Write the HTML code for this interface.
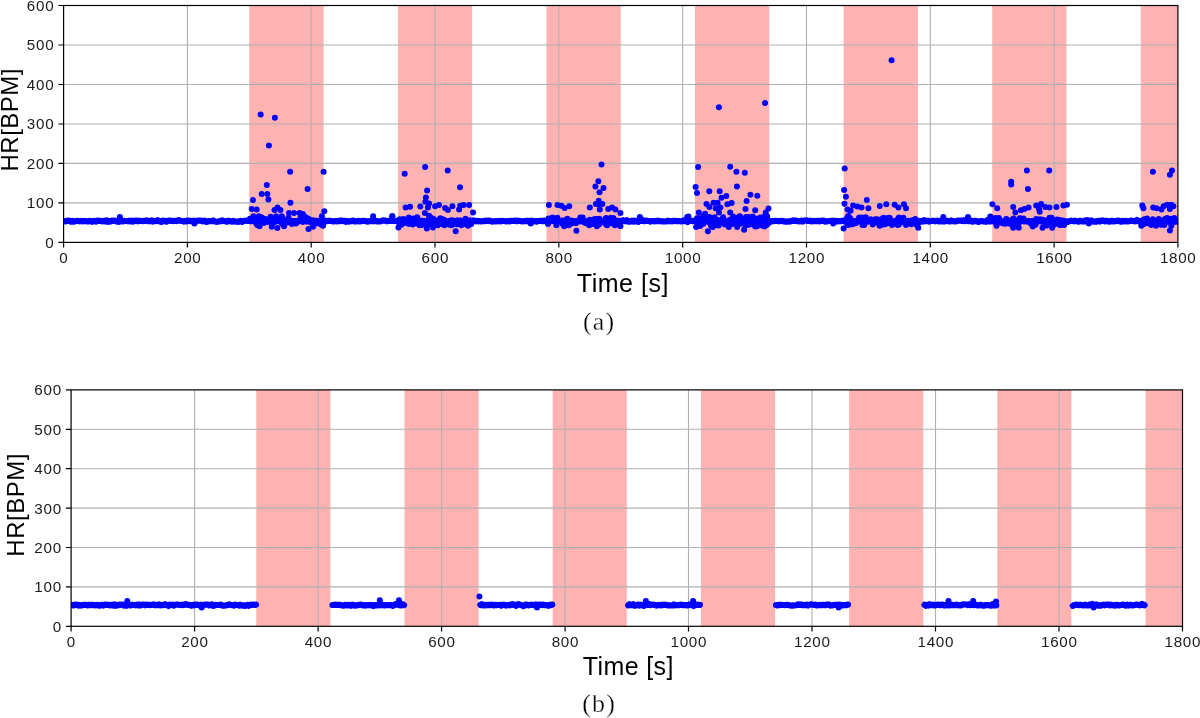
<!DOCTYPE html>
<html><head><meta charset="utf-8"><title>HR chart</title>
<style>
html,body{margin:0;padding:0;background:#fff;}
body{width:1200px;height:718px;overflow:hidden;font-family:"Liberation Sans",sans-serif;}
svg{display:block;}
text{filter:grayscale(1);}
</style></head><body>
<svg width="1200" height="718" viewBox="0 0 1200 718">
<rect width="1200" height="718" fill="#fff"/>
<clipPath id="clip1"><rect x="63.6" y="5.5" width="1114.3" height="236.9"/></clipPath>
<rect x="249.3" y="5.5" width="74.3" height="236.9" fill="#ffb2b2"/>
<rect x="397.9" y="5.5" width="74.3" height="236.9" fill="#ffb2b2"/>
<rect x="546.5" y="5.5" width="74.3" height="236.9" fill="#ffb2b2"/>
<rect x="695" y="5.5" width="74.3" height="236.9" fill="#ffb2b2"/>
<rect x="843.6" y="5.5" width="74.3" height="236.9" fill="#ffb2b2"/>
<rect x="992.2" y="5.5" width="74.3" height="236.9" fill="#ffb2b2"/>
<rect x="1140.8" y="5.5" width="37.1" height="236.9" fill="#ffb2b2"/>
<path d="M63.6 202.9H1177.9M63.6 163.4H1177.9M63.6 124H1177.9M63.6 84.5H1177.9M63.6 45H1177.9M187.4 5.5V242.4M311.2 5.5V242.4M435 5.5V242.4M558.8 5.5V242.4M682.7 5.5V242.4M806.5 5.5V242.4M930.3 5.5V242.4M1054.1 5.5V242.4" stroke="#b0b0b0" stroke-width="1.1" fill="none"/>
<g clip-path="url(#clip1)" fill="#0000ff">
<path d="M63.6 221.2 L64.8 221.2 L66.1 221.4 L67.3 220.7 L68.6 220.7 L69.8 220.9 L71 221.7 L72.3 220.9 L73.5 221.7 L74.7 221.4 L76 221 L77.2 220.9 L78.5 221 L79.7 221.3 L80.9 220.9 L82.2 221.3 L83.4 221.2 L84.6 220.9 L85.9 221.2 L87.1 221.3 L88.4 221.4 L89.6 220.9 L90.8 221.1 L92.1 221.8 L93.3 221.1 L94.6 220.9 L95.8 221.6 L97 220.8 L98.3 220.6 L99.5 221 L100.7 220.9 L102 221.2 L103.2 221.4 L104.5 220.6 L105.7 221.6 L106.9 220.6 L108.2 221.8 L109.4 221 L110.6 221.5 L111.9 220.7 L113.1 221 L114.4 220.5 L115.6 220.9 L116.8 221.6 L118.1 220.7 L119.3 221.8 L120.6 220.8 L121.8 221.1 L123 221.5 L124.3 220.9 L125.5 221 L126.7 221 L128 221.3 L129.2 220.7 L130.5 221.4 L131.7 220.6 L132.9 221.6 L134.2 221.1 L135.4 220.6 L136.6 220.6 L137.9 221.4 L139.1 220.7 L140.4 221 L141.6 221 L142.8 221.1 L144.1 220.9 L145.3 220.8 L146.6 220.4 L147.8 221.2 L149 221.1 L150.3 221.2 L151.5 220.4 L152.7 221.5 L154 220.9 L155.2 221.2 L156.5 221 L157.7 220.2 L158.9 221.3 L160.2 221.2 L161.4 222 L162.6 220.7 L163.9 221.1 L165.1 220.8 L166.4 221.7 L167.6 221.2 L168.8 220.7 L170.1 220.7 L171.3 220.8 L172.6 221 L173.8 221.1 L175 220.8 L176.3 221.1 L177.5 220.7 L178.7 220.1 L180 220.8 L181.2 221 L182.5 221 L183.7 221.6 L184.9 220.9 L186.2 221.4 L187.4 220.6 L188.6 220.6 L189.9 221.1 L191.1 220.8 L192.4 221.4 L193.6 220.7 L194.8 221.8 L196.1 221.1 L197.3 220.9 L198.6 220.5 L199.8 220.7 L201 220.6 L202.3 221.3 L203.5 221 L204.7 220.6 L206 221.9 L207.2 221.7 L208.5 221 L209.7 221.1 L210.9 221.1 L212.2 221.1 L213.4 220.5 L214.6 221.3 L215.9 221.7 L217.1 221.8 L218.4 221.5 L219.6 221.1 L220.8 221.3 L222.1 220.4 L223.3 220.9 L224.6 221.1 L225.8 221.3 L227 221.7 L228.3 220.7 L229.5 221.1 L230.7 221 L232 221.6 L233.2 220.8 L234.5 221.4 L235.7 221.6 L236.9 221.5 L238.2 221.9 L239.4 221.3 L240.6 220.8 L241.9 221.9 L243.1 221 L244.4 220.8 L245.6 220.8 L246.8 220.6 L248.1 220.9 L249.3 220.8 L250.6 221.2 L251.8 220.4 L253 220.9 L254.3 221.4 L255.5 220.4 L256.7 220.9 L258 221.4 L259.2 221 L260.5 221.1 L261.7 221.4 L262.9 220.8 L264.2 221.4 L265.4 220.1 L266.7 220.9 L267.9 220.9 L269.1 220.5 L270.4 221.1 L271.6 221.8 L272.8 221 L274.1 220.6 L275.3 221.6 L276.6 221 L277.8 221.2 L279 220.3 L280.3 221.5 L281.5 220.5 L282.7 220.4 L284 221.4 L285.2 221.8 L286.5 221.1 L287.7 221.3 L288.9 220.9 L290.2 220.9 L291.4 221.2 L292.7 221.1 L293.9 221.3 L295.1 221.1 L296.4 221.1 L297.6 221.1 L298.8 220.9 L300.1 220.9 L301.3 220.9 L302.6 221.8 L303.8 221.4 L305 221.5 L306.3 221.4 L307.5 221.2 L308.7 221.4 L310 220.9 L311.2 220.6 L312.5 221.1 L313.7 220.5 L314.9 220.7 L316.2 221.1 L317.4 221.2 L318.7 220.9 L319.9 221.2 L321.1 220.6 L322.4 221 L323.6 221.2 L324.8 220.7 L326.1 221.5 L327.3 221 L328.6 220.8 L329.8 220.8 L331 221 L332.3 221.2 L333.5 221.5 L334.7 221.1 L336 221.2 L337.2 221.3 L338.5 220.9 L339.7 221.2 L340.9 220.4 L342.2 220.7 L343.4 221.1 L344.7 220.8 L345.9 221.8 L347.1 220.9 L348.4 221.7 L349.6 221.3 L350.8 221.1 L352.1 220.9 L353.3 220.5 L354.6 221.5 L355.8 221.5 L357 221.1 L358.3 220.9 L359.5 221.5 L360.7 221.1 L362 221.1 L363.2 220.8 L364.5 221.1 L365.7 221.1 L366.9 221.4 L368.2 221.6 L369.4 221 L370.7 221.2 L371.9 220.9 L373.1 221.1 L374.4 221.1 L375.6 220.8 L376.8 221.3 L378.1 221.2 L379.3 221.5 L380.6 221.3 L381.8 220.9 L383 220.3 L384.3 220.7 L385.5 220.7 L386.7 221.3 L388 220.9 L389.2 221 L390.5 220.8 L391.7 220.9 L392.9 220.9 L394.2 220.7 L395.4 221 L396.7 221.2 L397.9 220.7 L399.1 221.4 L400.4 220.9 L401.6 221.4 L402.8 220.5 L404.1 221 L405.3 220.6 L406.6 220.8 L407.8 221.3 L409 220.6 L410.3 221.3 L411.5 221.1 L412.7 220.5 L414 221.3 L415.2 221.1 L416.5 221.3 L417.7 221.7 L418.9 220.6 L420.2 221.6 L421.4 220.7 L422.7 221.1 L423.9 221.1 L425.1 221.1 L426.4 221.1 L427.6 220.9 L428.8 221.4 L430.1 221.3 L431.3 220.8 L432.6 221.2 L433.8 221.4 L435 221 L436.3 220.9 L437.5 221.3 L438.7 220.1 L440 221.3 L441.2 221 L442.5 221.2 L443.7 221.1 L444.9 221.8 L446.2 221.1 L447.4 221.5 L448.7 221.3 L449.9 220.8 L451.1 220.9 L452.4 221.6 L453.6 220.9 L454.8 221.1 L456.1 221.4 L457.3 220.4 L458.6 221 L459.8 220.5 L461 220.8 L462.3 221.1 L463.5 221.7 L464.7 220.8 L466 220.8 L467.2 220.9 L468.5 221.6 L469.7 220.5 L470.9 221.4 L472.2 221.5 L473.4 220.5 L474.7 221 L475.9 221.3 L477.1 220.9 L478.4 221.4 L479.6 221 L480.8 221.5 L482.1 221.3 L483.3 221.1 L484.6 221.2 L485.8 220.6 L487 220.8 L488.3 221.1 L489.5 220.5 L490.7 221.1 L492 221.6 L493.2 221.3 L494.5 221.5 L495.7 221.1 L496.9 221.3 L498.2 221.2 L499.4 220.9 L500.7 221.3 L501.9 220.8 L503.1 221 L504.4 221 L505.6 221.3 L506.8 221.3 L508.1 221 L509.3 221.5 L510.6 220.9 L511.8 220.9 L513 221 L514.3 220.7 L515.5 220.5 L516.7 221.2 L518 220.8 L519.2 220.8 L520.5 221.1 L521.7 221.3 L522.9 221.3 L524.2 221.1 L525.4 221.1 L526.7 220.9 L527.9 220.8 L529.1 221.5 L530.4 220.9 L531.6 220.7 L532.8 221.6 L534.1 221 L535.3 221 L536.6 221.6 L537.8 221.1 L539 221 L540.3 220.8 L541.5 221.1 L542.7 221.2 L544 220.6 L545.2 221.1 L546.5 221.2 L547.7 220.5 L548.9 220.6 L550.2 221 L551.4 221 L552.7 220.2 L553.9 221.3 L555.1 221.5 L556.4 220.9 L557.6 220.9 L558.8 220.8 L560.1 221.3 L561.3 221.2 L562.6 221 L563.8 220.9 L565 221.1 L566.3 220.6 L567.5 221.5 L568.7 220.3 L570 221.1 L571.2 220.7 L572.5 221.2 L573.7 221 L574.9 221.5 L576.2 221.1 L577.4 221.2 L578.7 220.9 L579.9 221.4 L581.1 221.1 L582.4 221.1 L583.6 220.7 L584.8 221.4 L586.1 222 L587.3 221.3 L588.6 220.9 L589.8 220.9 L591 221.7 L592.3 220.7 L593.5 220.8 L594.7 220.9 L596 220.6 L597.2 220.8 L598.5 220.8 L599.7 221.1 L600.9 220.9 L602.2 221.5 L603.4 221 L604.7 220.9 L605.9 221.1 L607.1 221.2 L608.4 220.8 L609.6 221.2 L610.8 221.2 L612.1 221 L613.3 220.9 L614.6 221.4 L615.8 221.2 L617 220.8 L618.3 221.3 L619.5 221.4 L620.8 221.3 L622 221.3 L623.2 220.3 L624.5 221.2 L625.7 221.1 L626.9 220.3 L628.2 221.7 L629.4 221.7 L630.7 221.3 L631.9 220.6 L633.1 221.6 L634.4 220.7 L635.6 221.4 L636.8 220.9 L638.1 221.9 L639.3 220.8 L640.6 220.8 L641.8 221 L643 220.2 L644.3 221.2 L645.5 220.8 L646.8 220.7 L648 221 L649.2 221 L650.5 221.6 L651.7 221 L652.9 221 L654.2 221.4 L655.4 220.9 L656.7 221.2 L657.9 220.6 L659.1 221.1 L660.4 221 L661.6 221.4 L662.8 221.3 L664.1 221.5 L665.3 221.5 L666.6 221.4 L667.8 220.6 L669 221.3 L670.3 221 L671.5 221.3 L672.8 221.2 L674 220.8 L675.2 220.8 L676.5 221.2 L677.7 221.2 L678.9 221.1 L680.2 221.2 L681.4 221.4 L682.7 220.9 L683.9 220.3 L685.1 221.2 L686.4 220.7 L687.6 222 L688.8 220.9 L690.1 220.9 L691.3 220.8 L692.6 221.1 L693.8 220.9 L695 221 L696.3 221.9 L697.5 221 L698.8 221.4 L700 220.9 L701.2 220.6 L702.5 221.4 L703.7 220.8 L704.9 220.8 L706.2 221.3 L707.4 220.8 L708.7 221.7 L709.9 220.2 L711.1 221.3 L712.4 221 L713.6 220.6 L714.8 221.5 L716.1 221.3 L717.3 221.1 L718.6 221 L719.8 221.7 L721 221.5 L722.3 221.1 L723.5 220.9 L724.8 221.4 L726 221.8 L727.2 220.9 L728.5 221.1 L729.7 220.7 L730.9 220.8 L732.2 221 L733.4 221.3 L734.7 221.4 L735.9 220.5 L737.1 221.1 L738.4 220.7 L739.6 220.7 L740.8 221.3 L742.1 220.6 L743.3 221.4 L744.6 221.3 L745.8 220.5 L747 221.1 L748.3 220.7 L749.5 221.3 L750.8 220.5 L752 220.6 L753.2 220.9 L754.5 220.9 L755.7 221.6 L756.9 221 L758.2 221.2 L759.4 220.4 L760.7 221 L761.9 220.4 L763.1 221.1 L764.4 221.1 L765.6 221.1 L766.8 221.1 L768.1 221.4 L769.3 221.3 L770.6 221.1 L771.8 221.4 L773 221 L774.3 221.1 L775.5 220.8 L776.8 221 L778 221.1 L779.2 221.1 L780.5 221.1 L781.7 220.8 L782.9 221 L784.2 221.5 L785.4 221.6 L786.7 221.7 L787.9 221.3 L789.1 221.6 L790.4 221.4 L791.6 221 L792.8 220.4 L794.1 221 L795.3 220.4 L796.6 221.2 L797.8 221 L799 221.3 L800.3 221.3 L801.5 220.6 L802.8 221.5 L804 220.8 L805.2 220.4 L806.5 220.3 L807.7 220.9 L808.9 221 L810.2 220.7 L811.4 221.5 L812.7 221.3 L813.9 220.9 L815.1 221.1 L816.4 221.2 L817.6 220.8 L818.8 221.2 L820.1 221.3 L821.3 220.7 L822.6 220.8 L823.8 220.7 L825 221.6 L826.3 221.4 L827.5 221.3 L828.8 221 L830 221 L831.2 220.8 L832.5 221 L833.7 220.7 L834.9 221.7 L836.2 220.9 L837.4 221.5 L838.7 221.1 L839.9 221.1 L841.1 221.2 L842.4 220.7 L843.6 220.5 L844.8 221.3 L846.1 221.3 L847.3 221.4 L848.6 221 L849.8 221 L851 221 L852.3 220.7 L853.5 221.6 L854.8 221 L856 221.7 L857.2 221.1 L858.5 221.3 L859.7 220.7 L860.9 221.4 L862.2 220.9 L863.4 221 L864.7 220.8 L865.9 220.9 L867.1 221 L868.4 221.3 L869.6 221 L870.8 221.1 L872.1 221.3 L873.3 221.2 L874.6 220.5 L875.8 220.3 L877 220.8 L878.3 220.4 L879.5 221.1 L880.8 220.9 L882 220.9 L883.2 221.2 L884.5 221.6 L885.7 221.2 L886.9 221.3 L888.2 220.8 L889.4 221.6 L890.7 220.8 L891.9 221.6 L893.1 221.3 L894.4 221.2 L895.6 221 L896.8 220.8 L898.1 221.3 L899.3 221.3 L900.6 220.8 L901.8 221 L903 221.3 L904.3 221.4 L905.5 221.3 L906.8 221.5 L908 220.9 L909.2 221 L910.5 222 L911.7 220.6 L912.9 220.7 L914.2 220.7 L915.4 220.7 L916.7 221.6 L917.9 221.6 L919.1 220.9 L920.4 221.8 L921.6 220.9 L922.8 221.5 L924.1 220.3 L925.3 221.2 L926.6 221.1 L927.8 220.7 L929 221.6 L930.3 221.2 L931.5 221 L932.8 220.7 L934 221 L935.2 221.3 L936.5 220.7 L937.7 220.9 L938.9 221.5 L940.2 220.9 L941.4 221.4 L942.7 220.8 L943.9 221.4 L945.1 221.3 L946.4 220.9 L947.6 220.9 L948.8 221.3 L950.1 221.3 L951.3 220.5 L952.6 221.1 L953.8 221.2 L955 221.5 L956.3 221.3 L957.5 220.5 L958.8 220.5 L960 220.6 L961.2 220.7 L962.5 221.1 L963.7 220.2 L964.9 221.2 L966.2 220.9 L967.4 221 L968.7 221.2 L969.9 220.6 L971.1 220.7 L972.4 221.6 L973.6 221.4 L974.8 220.9 L976.1 220.9 L977.3 221.7 L978.6 221.8 L979.8 221.3 L981 221.1 L982.3 221.2 L983.5 221.3 L984.8 221.5 L986 221.8 L987.2 220.4 L988.5 221.5 L989.7 221.4 L990.9 221.3 L992.2 220.9 L993.4 221.4 L994.7 220.6 L995.9 221.4 L997.1 221.6 L998.4 221.5 L999.6 221 L1000.9 221.2 L1002.1 221.5 L1003.3 221.3 L1004.6 221.7 L1005.8 221 L1007 221.5 L1008.3 220.9 L1009.5 220.9 L1010.8 221.4 L1012 222 L1013.2 221.4 L1014.5 221.2 L1015.7 221.2 L1016.9 221.5 L1018.2 220.5 L1019.4 220.7 L1020.7 220.8 L1021.9 220.8 L1023.1 220.7 L1024.4 221.4 L1025.6 220.7 L1026.9 221.4 L1028.1 221.2 L1029.3 221.2 L1030.6 221.3 L1031.8 221.1 L1033 221 L1034.3 221 L1035.5 221.3 L1036.8 220.8 L1038 221.3 L1039.2 221.2 L1040.5 221.2 L1041.7 221.6 L1042.9 220.6 L1044.2 220.9 L1045.4 220.9 L1046.7 220.7 L1047.9 220.7 L1049.1 221.8 L1050.4 220.7 L1051.6 221.2 L1052.9 221.2 L1054.1 221 L1055.3 220.5 L1056.6 220.4 L1057.8 220.5 L1059 221 L1060.3 221.1 L1061.5 221.1 L1062.8 220.5 L1064 221.2 L1065.2 221.1 L1066.5 221.5 L1067.7 221.9 L1068.9 221.1 L1070.2 221.1 L1071.4 220.6 L1072.7 221 L1073.9 221.3 L1075.1 220.7 L1076.4 221.2 L1077.6 221.4 L1078.9 221.6 L1080.1 220.7 L1081.3 221.4 L1082.6 221.3 L1083.8 221.5 L1085 220.5 L1086.3 221.3 L1087.5 220.2 L1088.8 221.3 L1090 221.3 L1091.2 220.4 L1092.5 221.3 L1093.7 221.7 L1094.9 221.5 L1096.2 221.7 L1097.4 221 L1098.7 220.8 L1099.9 221.5 L1101.1 220.8 L1102.4 220.4 L1103.6 220.8 L1104.9 221.3 L1106.1 220.7 L1107.3 221.4 L1108.6 221.2 L1109.8 221.7 L1111 220.9 L1112.3 220.8 L1113.5 221.5 L1114.8 221.3 L1116 221.1 L1117.2 221 L1118.5 220.5 L1119.7 221 L1120.9 221.7 L1122.2 220.8 L1123.4 221.5 L1124.7 221 L1125.9 220.8 L1127.1 221.4 L1128.4 221.4 L1129.6 221 L1130.9 220.7 L1132.1 220.7 L1133.3 221 L1134.6 221.3 L1135.8 221.2 L1137 220 L1138.3 220.8 L1139.5 221.3 L1140.8 221 L1142 220.5 L1143.2 220.7 L1144.5 221.1 L1145.7 221 L1146.9 221 L1148.2 221.8 L1149.4 221.9 L1150.7 221 L1151.9 221.4 L1153.1 220.4 L1154.4 221.1 L1155.6 221.6 L1156.9 221.3 L1158.1 221.3 L1159.3 220 L1160.6 221.1 L1161.8 221.1 L1163 220.4 L1164.3 221 L1165.5 221 L1166.8 221.7 L1168 220.9 L1169.2 221.1 L1170.5 221.2 L1171.7 221.6 L1172.9 220.8 L1174.2 221.1 L1175.4 221.3 L1176.7 221.1 L1177.9 221.1" fill="none" stroke="#0000ff" stroke-width="6.2" stroke-linecap="round" stroke-linejoin="round"/>
<circle cx="119.9" cy="216.9" r="3"/><circle cx="194.5" cy="223.4" r="3"/><circle cx="373.1" cy="216.3" r="3"/><circle cx="392.3" cy="216.3" r="3"/><circle cx="530.7" cy="223.4" r="3"/><circle cx="639.9" cy="217.1" r="3"/><circle cx="687.2" cy="217.1" r="3"/><circle cx="833.1" cy="223.4" r="3"/><circle cx="943.3" cy="217.1" r="3"/><circle cx="968" cy="217.1" r="3"/><circle cx="990.9" cy="217.5" r="3"/><circle cx="1088.8" cy="223.4" r="3"/>
<circle cx="260.7" cy="114.5" r="3"/><circle cx="274.9" cy="117.7" r="3"/><circle cx="268.9" cy="145.6" r="3"/><circle cx="290.1" cy="171.7" r="3"/><circle cx="323.6" cy="171.7" r="3"/><circle cx="266.8" cy="185.1" r="3"/><circle cx="307.6" cy="189" r="3"/><circle cx="261.7" cy="194" r="3"/><circle cx="267.3" cy="194" r="3"/><circle cx="268.4" cy="199.6" r="3"/><circle cx="253" cy="200.1" r="3"/><circle cx="290.4" cy="202.7" r="3"/><circle cx="251.7" cy="209" r="3"/><circle cx="256.7" cy="209.6" r="3"/><circle cx="274.5" cy="210.1" r="3"/><circle cx="277.5" cy="207.4" r="3"/><circle cx="280.4" cy="210.1" r="3"/><circle cx="324.3" cy="211.3" r="3"/><circle cx="289" cy="212.9" r="3"/><circle cx="294" cy="212.9" r="3"/><circle cx="299.6" cy="212.9" r="3"/><circle cx="302.9" cy="214" r="3"/><circle cx="253.4" cy="216.3" r="3"/><circle cx="258.9" cy="216.3" r="3"/><circle cx="270.6" cy="216.8" r="3"/><circle cx="276.2" cy="216.3" r="3"/><circle cx="281.8" cy="216.3" r="3"/><circle cx="305.2" cy="216.8" r="3"/><circle cx="321.9" cy="216.3" r="3"/><circle cx="259.5" cy="226.3" r="3"/><circle cx="271.7" cy="226.8" r="3"/><circle cx="277.3" cy="228" r="3"/><circle cx="308.5" cy="229.1" r="3"/><circle cx="313" cy="226.8" r="3"/><circle cx="323" cy="225.7" r="3"/><circle cx="284" cy="226.3" r="3"/><circle cx="425.1" cy="167" r="3"/><circle cx="404.7" cy="173.7" r="3"/><circle cx="447.7" cy="170.6" r="3"/><circle cx="460" cy="187.3" r="3"/><circle cx="427.1" cy="190.4" r="3"/><circle cx="425.9" cy="197.6" r="3"/><circle cx="425.4" cy="201.8" r="3"/><circle cx="429" cy="203.5" r="3"/><circle cx="405.6" cy="207.4" r="3"/><circle cx="410.1" cy="206.8" r="3"/><circle cx="420.3" cy="206.5" r="3"/><circle cx="427.9" cy="207.4" r="3"/><circle cx="435.1" cy="206.2" r="3"/><circle cx="439" cy="205.1" r="3"/><circle cx="445.1" cy="207.9" r="3"/><circle cx="447.9" cy="210.1" r="3"/><circle cx="452.4" cy="206.2" r="3"/><circle cx="459.1" cy="209.6" r="3"/><circle cx="460.2" cy="205.7" r="3"/><circle cx="463.5" cy="205.1" r="3"/><circle cx="469.1" cy="205.1" r="3"/><circle cx="473" cy="212.4" r="3"/><circle cx="424.8" cy="212.9" r="3"/><circle cx="392.2" cy="216.3" r="3"/><circle cx="429" cy="215.7" r="3"/><circle cx="398.4" cy="227.4" r="3"/><circle cx="408.9" cy="224.1" r="3"/><circle cx="419.5" cy="225.2" r="3"/><circle cx="426.8" cy="228.5" r="3"/><circle cx="432.9" cy="227.4" r="3"/><circle cx="437.9" cy="225.2" r="3"/><circle cx="444.6" cy="225.2" r="3"/><circle cx="451.3" cy="225.2" r="3"/><circle cx="455.7" cy="231.3" r="3"/><circle cx="461.3" cy="225.2" r="3"/><circle cx="468" cy="225.7" r="3"/><circle cx="601.5" cy="164.5" r="3"/><circle cx="598.4" cy="181.2" r="3"/><circle cx="595.4" cy="186.5" r="3"/><circle cx="603.5" cy="187.9" r="3"/><circle cx="599.5" cy="192.3" r="3"/><circle cx="598.7" cy="200.7" r="3"/><circle cx="595.9" cy="204" r="3"/><circle cx="598.7" cy="204.6" r="3"/><circle cx="602.4" cy="204" r="3"/><circle cx="599.8" cy="209.6" r="3"/><circle cx="589.8" cy="207.4" r="3"/><circle cx="548.9" cy="204.9" r="3"/><circle cx="557.5" cy="205.1" r="3"/><circle cx="561.4" cy="205.7" r="3"/><circle cx="564.7" cy="207.9" r="3"/><circle cx="569.2" cy="206.2" r="3"/><circle cx="608.2" cy="209" r="3"/><circle cx="612.1" cy="207.4" r="3"/><circle cx="615.4" cy="209.6" r="3"/><circle cx="620.4" cy="212.9" r="3"/><circle cx="548" cy="224.1" r="3"/><circle cx="556.4" cy="225.2" r="3"/><circle cx="564.2" cy="226.3" r="3"/><circle cx="568.6" cy="225.2" r="3"/><circle cx="576.4" cy="230.7" r="3"/><circle cx="589.2" cy="225.2" r="3"/><circle cx="596.8" cy="226.3" r="3"/><circle cx="607.1" cy="225.2" r="3"/><circle cx="614.9" cy="225.2" r="3"/><circle cx="620.4" cy="226.3" r="3"/><circle cx="718.9" cy="107.2" r="3"/><circle cx="765" cy="103.1" r="3"/><circle cx="698.1" cy="166.9" r="3"/><circle cx="730.2" cy="166.7" r="3"/><circle cx="736.4" cy="171.8" r="3"/><circle cx="744.8" cy="172.7" r="3"/><circle cx="695.6" cy="187.1" r="3"/><circle cx="697" cy="192.9" r="3"/><circle cx="709.3" cy="191.3" r="3"/><circle cx="719.7" cy="191.3" r="3"/><circle cx="736.9" cy="186.4" r="3"/><circle cx="726.3" cy="196.1" r="3"/><circle cx="721.5" cy="197.8" r="3"/><circle cx="750.4" cy="194.7" r="3"/><circle cx="757.3" cy="195.7" r="3"/><circle cx="746.6" cy="200.9" r="3"/><circle cx="706.5" cy="204.1" r="3"/><circle cx="713.5" cy="202.7" r="3"/><circle cx="717.6" cy="202.7" r="3"/><circle cx="709.3" cy="206.9" r="3"/><circle cx="715.6" cy="208.2" r="3"/><circle cx="720.4" cy="207.5" r="3"/><circle cx="727.4" cy="204.3" r="3"/><circle cx="731.6" cy="203" r="3"/><circle cx="719" cy="212.4" r="3"/><circle cx="745.5" cy="208.9" r="3"/><circle cx="768.5" cy="208.5" r="3"/><circle cx="755.2" cy="210.3" r="3"/><circle cx="730.2" cy="212.4" r="3"/><circle cx="698.8" cy="212.4" r="3"/><circle cx="705.1" cy="213.8" r="3"/><circle cx="765.7" cy="212.4" r="3"/><circle cx="688.4" cy="216.6" r="3"/><circle cx="696.1" cy="227" r="3"/><circle cx="707.9" cy="231.2" r="3"/><circle cx="712.8" cy="227" r="3"/><circle cx="728.8" cy="227" r="3"/><circle cx="737.1" cy="227" r="3"/><circle cx="744.1" cy="229.8" r="3"/><circle cx="755.2" cy="226.4" r="3"/><circle cx="764.3" cy="226.4" r="3"/><circle cx="891.6" cy="60.2" r="3"/><circle cx="844.7" cy="168.6" r="3"/><circle cx="844.1" cy="190.1" r="3"/><circle cx="845.9" cy="196.8" r="3"/><circle cx="866.8" cy="199.9" r="3"/><circle cx="844.5" cy="203.8" r="3"/><circle cx="847.5" cy="209.6" r="3"/><circle cx="850.6" cy="210.8" r="3"/><circle cx="853.1" cy="205.5" r="3"/><circle cx="857.3" cy="206.6" r="3"/><circle cx="861.5" cy="207.5" r="3"/><circle cx="868.4" cy="208.2" r="3"/><circle cx="879.8" cy="205.9" r="3"/><circle cx="886.3" cy="204.3" r="3"/><circle cx="894.6" cy="204.8" r="3"/><circle cx="898.4" cy="207.5" r="3"/><circle cx="903.9" cy="204.3" r="3"/><circle cx="906" cy="208.2" r="3"/><circle cx="848.2" cy="215.9" r="3"/><circle cx="843.6" cy="228.4" r="3"/><circle cx="879.6" cy="225.7" r="3"/><circle cx="885.1" cy="224.3" r="3"/><circle cx="918.3" cy="227.7" r="3"/><circle cx="847.5" cy="225" r="3"/><circle cx="864.2" cy="225" r="3"/><circle cx="897.7" cy="225" r="3"/><circle cx="906" cy="225" r="3"/><circle cx="1026.9" cy="170.4" r="3"/><circle cx="1049.2" cy="170.4" r="3"/><circle cx="1011.2" cy="181.8" r="3"/><circle cx="1011.2" cy="184.6" r="3"/><circle cx="1027.9" cy="189" r="3"/><circle cx="992.4" cy="204.3" r="3"/><circle cx="997.2" cy="208.2" r="3"/><circle cx="1013.2" cy="206.9" r="3"/><circle cx="1015.3" cy="212.4" r="3"/><circle cx="1020.9" cy="210.3" r="3"/><circle cx="1024.4" cy="208.9" r="3"/><circle cx="1028.6" cy="207.5" r="3"/><circle cx="1036.2" cy="205.5" r="3"/><circle cx="1039" cy="208.9" r="3"/><circle cx="1041.1" cy="204.1" r="3"/><circle cx="1045.3" cy="206.9" r="3"/><circle cx="1049.5" cy="207.5" r="3"/><circle cx="1039.7" cy="211.7" r="3"/><circle cx="1056.4" cy="206.9" r="3"/><circle cx="1063.4" cy="205.5" r="3"/><circle cx="1066.9" cy="204.8" r="3"/><circle cx="990.3" cy="216.6" r="3"/><circle cx="996.5" cy="225.7" r="3"/><circle cx="1013.2" cy="227.7" r="3"/><circle cx="1018.8" cy="227.7" r="3"/><circle cx="1032.7" cy="226.4" r="3"/><circle cx="1042.5" cy="227.7" r="3"/><circle cx="1052.2" cy="227.7" r="3"/><circle cx="1064.1" cy="225" r="3"/><circle cx="1152.9" cy="171.8" r="3"/><circle cx="1172" cy="170.4" r="3"/><circle cx="1169.9" cy="174.8" r="3"/><circle cx="1142.3" cy="205.5" r="3"/><circle cx="1143.4" cy="208.2" r="3"/><circle cx="1153.2" cy="207.5" r="3"/><circle cx="1156.7" cy="208.2" r="3"/><circle cx="1161.5" cy="209.6" r="3"/><circle cx="1163.6" cy="206.2" r="3"/><circle cx="1167.1" cy="204.8" r="3"/><circle cx="1171.3" cy="204.8" r="3"/><circle cx="1173.4" cy="206.2" r="3"/><circle cx="1169.9" cy="208.9" r="3"/><circle cx="1141.3" cy="225.7" r="3"/><circle cx="1156" cy="225.7" r="3"/><circle cx="1169.9" cy="230.5" r="3"/><circle cx="1171.3" cy="225.7" r="3"/><circle cx="283" cy="221.6" r="3"/><circle cx="317.4" cy="220.8" r="3"/><circle cx="287" cy="221.8" r="3"/><circle cx="263.4" cy="221.2" r="3"/><circle cx="295.9" cy="223.4" r="3"/><circle cx="256.8" cy="219.6" r="3"/><circle cx="256.6" cy="223.5" r="3"/><circle cx="300.6" cy="217.5" r="3"/><circle cx="321.7" cy="224.7" r="3"/><circle cx="297.7" cy="222" r="3"/><circle cx="261.4" cy="217.3" r="3"/><circle cx="288.5" cy="217.7" r="3"/><circle cx="263.8" cy="219.1" r="3"/><circle cx="252.1" cy="220.8" r="3"/><circle cx="282.1" cy="223.8" r="3"/><circle cx="287.9" cy="222.2" r="3"/><circle cx="286.4" cy="222.4" r="3"/><circle cx="283.3" cy="219.4" r="3"/><circle cx="322.8" cy="225" r="3"/><circle cx="311.3" cy="222.7" r="3"/><circle cx="273" cy="219" r="3"/><circle cx="271" cy="217.7" r="3"/><circle cx="305.9" cy="220.3" r="3"/><circle cx="311.8" cy="220.2" r="3"/><circle cx="319.9" cy="223.8" r="3"/><circle cx="250" cy="218.8" r="3"/><circle cx="316.4" cy="220.9" r="3"/><circle cx="321.5" cy="220.3" r="3"/><circle cx="255.3" cy="222.1" r="3"/><circle cx="306.8" cy="219.3" r="3"/><circle cx="256.3" cy="219.8" r="3"/><circle cx="320.4" cy="223.1" r="3"/><circle cx="258.6" cy="219.1" r="3"/><circle cx="257.3" cy="217.7" r="3"/><circle cx="308.2" cy="218.6" r="3"/><circle cx="290.8" cy="220.7" r="3"/><circle cx="263.9" cy="222.9" r="3"/><circle cx="259.5" cy="222.2" r="3"/><circle cx="258.4" cy="220.5" r="3"/><circle cx="265.5" cy="219.3" r="3"/><circle cx="320.9" cy="223.5" r="3"/><circle cx="272.2" cy="224.1" r="3"/><circle cx="265.3" cy="220.3" r="3"/><circle cx="312.3" cy="222.2" r="3"/><circle cx="257.3" cy="224.9" r="3"/><circle cx="265.5" cy="219.2" r="3"/><circle cx="306.4" cy="219.8" r="3"/><circle cx="271.6" cy="217.8" r="3"/><circle cx="256.5" cy="221.7" r="3"/><circle cx="267.7" cy="221.9" r="3"/><circle cx="277.1" cy="220.7" r="3"/><circle cx="320" cy="221" r="3"/><circle cx="291.9" cy="224" r="3"/><circle cx="263.3" cy="218.4" r="3"/><circle cx="316.3" cy="223.6" r="3"/><circle cx="416.7" cy="218.7" r="3"/><circle cx="452.5" cy="224.5" r="3"/><circle cx="412.9" cy="224.6" r="3"/><circle cx="463" cy="221.9" r="3"/><circle cx="429.3" cy="218" r="3"/><circle cx="401.3" cy="224.7" r="3"/><circle cx="415.9" cy="222.7" r="3"/><circle cx="417.3" cy="223.6" r="3"/><circle cx="442.1" cy="219.5" r="3"/><circle cx="411.3" cy="222.8" r="3"/><circle cx="403.5" cy="219" r="3"/><circle cx="439.4" cy="223.8" r="3"/><circle cx="443.4" cy="219.4" r="3"/><circle cx="465.5" cy="218.8" r="3"/><circle cx="399.7" cy="219.3" r="3"/><circle cx="431.1" cy="217.7" r="3"/><circle cx="411.4" cy="220.1" r="3"/><circle cx="440.3" cy="218.2" r="3"/><circle cx="425" cy="224.1" r="3"/><circle cx="470.1" cy="222.3" r="3"/><circle cx="449" cy="221.8" r="3"/><circle cx="408.8" cy="217.5" r="3"/><circle cx="399.8" cy="224.3" r="3"/><circle cx="449.7" cy="224.7" r="3"/><circle cx="400.1" cy="222.2" r="3"/><circle cx="433.7" cy="222.9" r="3"/><circle cx="421.8" cy="225" r="3"/><circle cx="404" cy="221.5" r="3"/><circle cx="452.3" cy="224.2" r="3"/><circle cx="452.4" cy="222.7" r="3"/><circle cx="456.5" cy="224.3" r="3"/><circle cx="424.2" cy="222.5" r="3"/><circle cx="464.3" cy="224" r="3"/><circle cx="429" cy="223.4" r="3"/><circle cx="461.6" cy="221.7" r="3"/><circle cx="444.2" cy="220.2" r="3"/><circle cx="441.1" cy="221.9" r="3"/><circle cx="404.4" cy="222.2" r="3"/><circle cx="471.1" cy="224.1" r="3"/><circle cx="451.7" cy="220.2" r="3"/><circle cx="452.2" cy="221.7" r="3"/><circle cx="430.7" cy="223.7" r="3"/><circle cx="404.6" cy="223.1" r="3"/><circle cx="400.7" cy="221.9" r="3"/><circle cx="433.6" cy="219" r="3"/><circle cx="449.5" cy="221.1" r="3"/><circle cx="443.4" cy="224.4" r="3"/><circle cx="417.2" cy="217.3" r="3"/><circle cx="420.5" cy="222.5" r="3"/><circle cx="413.3" cy="218.5" r="3"/><circle cx="464.7" cy="222.3" r="3"/><circle cx="430.8" cy="224.2" r="3"/><circle cx="422.4" cy="222.4" r="3"/><circle cx="413" cy="220.6" r="3"/><circle cx="457.4" cy="224.3" r="3"/><circle cx="611.4" cy="220.2" r="3"/><circle cx="589.7" cy="219.7" r="3"/><circle cx="557" cy="221.1" r="3"/><circle cx="608.2" cy="223.7" r="3"/><circle cx="599" cy="224.4" r="3"/><circle cx="567.3" cy="218.7" r="3"/><circle cx="580" cy="219.4" r="3"/><circle cx="562.7" cy="220.5" r="3"/><circle cx="592.8" cy="221.1" r="3"/><circle cx="570.1" cy="223.6" r="3"/><circle cx="618.8" cy="220.7" r="3"/><circle cx="552.5" cy="217.6" r="3"/><circle cx="610.8" cy="217.7" r="3"/><circle cx="598.8" cy="221.6" r="3"/><circle cx="569.7" cy="223.3" r="3"/><circle cx="548.5" cy="218.4" r="3"/><circle cx="580.3" cy="217.6" r="3"/><circle cx="607.7" cy="219.2" r="3"/><circle cx="557.4" cy="217.7" r="3"/><circle cx="593" cy="220.7" r="3"/><circle cx="593.1" cy="222.2" r="3"/><circle cx="606.1" cy="224.5" r="3"/><circle cx="597.1" cy="218.9" r="3"/><circle cx="581.8" cy="218.7" r="3"/><circle cx="547.9" cy="220.9" r="3"/><circle cx="599.3" cy="218.7" r="3"/><circle cx="567" cy="220" r="3"/><circle cx="598" cy="221.3" r="3"/><circle cx="592" cy="223" r="3"/><circle cx="575.8" cy="223.3" r="3"/><circle cx="613.3" cy="218" r="3"/><circle cx="615.2" cy="222.7" r="3"/><circle cx="556.6" cy="220.8" r="3"/><circle cx="592.8" cy="224.1" r="3"/><circle cx="574.6" cy="221.6" r="3"/><circle cx="611.3" cy="223.3" r="3"/><circle cx="616.1" cy="220.8" r="3"/><circle cx="594.7" cy="218.9" r="3"/><circle cx="599.8" cy="223.5" r="3"/><circle cx="594" cy="222.7" r="3"/><circle cx="562.7" cy="224.1" r="3"/><circle cx="618.7" cy="224.6" r="3"/><circle cx="586.3" cy="223.3" r="3"/><circle cx="570.5" cy="224.1" r="3"/><circle cx="609.6" cy="220" r="3"/><circle cx="553.1" cy="220.7" r="3"/><circle cx="587.3" cy="223.1" r="3"/><circle cx="582.7" cy="217.6" r="3"/><circle cx="606.2" cy="217.9" r="3"/><circle cx="605.5" cy="218.7" r="3"/><circle cx="571.6" cy="223.2" r="3"/><circle cx="557.3" cy="218.5" r="3"/><circle cx="584.8" cy="222.8" r="3"/><circle cx="608.4" cy="222.5" r="3"/><circle cx="616.2" cy="221" r="3"/><circle cx="765" cy="217.1" r="3"/><circle cx="711.8" cy="221.6" r="3"/><circle cx="716.9" cy="223.6" r="3"/><circle cx="742.3" cy="221.5" r="3"/><circle cx="757.3" cy="221.9" r="3"/><circle cx="718.4" cy="220.1" r="3"/><circle cx="757.4" cy="225.4" r="3"/><circle cx="710.9" cy="224.9" r="3"/><circle cx="766.4" cy="221.5" r="3"/><circle cx="737.5" cy="218.2" r="3"/><circle cx="734.8" cy="221.3" r="3"/><circle cx="739.9" cy="216.5" r="3"/><circle cx="766.5" cy="221.5" r="3"/><circle cx="724.9" cy="224.4" r="3"/><circle cx="736.8" cy="221.2" r="3"/><circle cx="746.1" cy="216.9" r="3"/><circle cx="735" cy="220.4" r="3"/><circle cx="765.6" cy="225.6" r="3"/><circle cx="715.3" cy="221" r="3"/><circle cx="704.9" cy="220.6" r="3"/><circle cx="755.2" cy="225.4" r="3"/><circle cx="730.5" cy="219.4" r="3"/><circle cx="709.6" cy="222.5" r="3"/><circle cx="763.2" cy="217.5" r="3"/><circle cx="752.6" cy="216.4" r="3"/><circle cx="709.8" cy="218.5" r="3"/><circle cx="745.8" cy="219.5" r="3"/><circle cx="721.6" cy="222.5" r="3"/><circle cx="703.3" cy="223.7" r="3"/><circle cx="704.6" cy="221.4" r="3"/><circle cx="714" cy="218.2" r="3"/><circle cx="734.4" cy="220.7" r="3"/><circle cx="723.1" cy="220.4" r="3"/><circle cx="734.3" cy="217.8" r="3"/><circle cx="710.6" cy="222.6" r="3"/><circle cx="742.3" cy="221.6" r="3"/><circle cx="757.8" cy="222.4" r="3"/><circle cx="758.2" cy="218.6" r="3"/><circle cx="749.8" cy="224.5" r="3"/><circle cx="761.6" cy="219.4" r="3"/><circle cx="718.7" cy="225.6" r="3"/><circle cx="711.6" cy="226.4" r="3"/><circle cx="760.5" cy="217.6" r="3"/><circle cx="713.1" cy="223.6" r="3"/><circle cx="714.6" cy="217.2" r="3"/><circle cx="756.4" cy="220.5" r="3"/><circle cx="753.4" cy="217.5" r="3"/><circle cx="725.1" cy="223.2" r="3"/><circle cx="697" cy="218.2" r="3"/><circle cx="745.5" cy="225.5" r="3"/><circle cx="766.4" cy="217.4" r="3"/><circle cx="732.6" cy="223.9" r="3"/><circle cx="732.4" cy="223.2" r="3"/><circle cx="709.5" cy="216.9" r="3"/><circle cx="703.4" cy="216.6" r="3"/><circle cx="736" cy="221.5" r="3"/><circle cx="737.2" cy="217.7" r="3"/><circle cx="709.1" cy="218.3" r="3"/><circle cx="757" cy="226.3" r="3"/><circle cx="763.4" cy="217.2" r="3"/><circle cx="700.2" cy="225.9" r="3"/><circle cx="729.4" cy="224" r="3"/><circle cx="719.5" cy="221" r="3"/><circle cx="733.3" cy="220.6" r="3"/><circle cx="739.6" cy="216.3" r="3"/><circle cx="746.9" cy="224.8" r="3"/><circle cx="708.9" cy="220.8" r="3"/><circle cx="749.7" cy="220.3" r="3"/><circle cx="709.9" cy="217.9" r="3"/><circle cx="733.1" cy="216.4" r="3"/><circle cx="760.9" cy="224.4" r="3"/><circle cx="747.1" cy="225" r="3"/><circle cx="741.6" cy="220.3" r="3"/><circle cx="739.5" cy="221.3" r="3"/><circle cx="767.4" cy="224.4" r="3"/><circle cx="714.5" cy="225.5" r="3"/><circle cx="750" cy="224.1" r="3"/><circle cx="755.2" cy="220.3" r="3"/><circle cx="761.1" cy="225.2" r="3"/><circle cx="746.4" cy="224" r="3"/><circle cx="751.6" cy="220.3" r="3"/><circle cx="748.4" cy="216.9" r="3"/><circle cx="720.6" cy="221" r="3"/><circle cx="696.4" cy="219.8" r="3"/><circle cx="742.3" cy="222.6" r="3"/><circle cx="712.6" cy="225.8" r="3"/><circle cx="744.3" cy="219.6" r="3"/><circle cx="743.9" cy="222" r="3"/><circle cx="734.6" cy="220.2" r="3"/><circle cx="768.7" cy="222.8" r="3"/><circle cx="746.9" cy="224" r="3"/><circle cx="767.2" cy="216.4" r="3"/><circle cx="740.6" cy="223.7" r="3"/><circle cx="714.4" cy="220.3" r="3"/><circle cx="699.3" cy="218.2" r="3"/><circle cx="723.1" cy="217.2" r="3"/><circle cx="714" cy="225.4" r="3"/><circle cx="735.8" cy="221.4" r="3"/><circle cx="766.3" cy="222" r="3"/><circle cx="768.3" cy="222.7" r="3"/><circle cx="903.4" cy="217.8" r="3"/><circle cx="887.9" cy="223.3" r="3"/><circle cx="847.5" cy="224.6" r="3"/><circle cx="855.9" cy="221" r="3"/><circle cx="856.6" cy="221.2" r="3"/><circle cx="888.9" cy="217.7" r="3"/><circle cx="913.3" cy="220.6" r="3"/><circle cx="882.7" cy="222" r="3"/><circle cx="870.9" cy="219.5" r="3"/><circle cx="892.1" cy="221.7" r="3"/><circle cx="864.9" cy="222.9" r="3"/><circle cx="865.9" cy="217.3" r="3"/><circle cx="862.1" cy="217.5" r="3"/><circle cx="855.7" cy="223.2" r="3"/><circle cx="872.7" cy="224.4" r="3"/><circle cx="898.9" cy="217.6" r="3"/><circle cx="916.5" cy="224.8" r="3"/><circle cx="849.6" cy="224.4" r="3"/><circle cx="875.6" cy="221" r="3"/><circle cx="915.3" cy="219.1" r="3"/><circle cx="882.5" cy="224.7" r="3"/><circle cx="897" cy="220.9" r="3"/><circle cx="915.7" cy="223.7" r="3"/><circle cx="888.3" cy="218.1" r="3"/><circle cx="889.8" cy="220.8" r="3"/><circle cx="859.1" cy="217.6" r="3"/><circle cx="882.8" cy="218.2" r="3"/><circle cx="876.6" cy="222.5" r="3"/><circle cx="877.5" cy="219.3" r="3"/><circle cx="886.8" cy="220.6" r="3"/><circle cx="901.1" cy="221.4" r="3"/><circle cx="917.1" cy="224.8" r="3"/><circle cx="897.9" cy="219.1" r="3"/><circle cx="852.5" cy="224.3" r="3"/><circle cx="901.5" cy="222.2" r="3"/><circle cx="870.5" cy="219.4" r="3"/><circle cx="894.3" cy="221.7" r="3"/><circle cx="887.5" cy="222.3" r="3"/><circle cx="899.3" cy="218.7" r="3"/><circle cx="862.4" cy="225" r="3"/><circle cx="911.1" cy="224.2" r="3"/><circle cx="847.1" cy="217.7" r="3"/><circle cx="864" cy="220.6" r="3"/><circle cx="889.8" cy="218" r="3"/><circle cx="883.8" cy="217.8" r="3"/><circle cx="850.5" cy="222.6" r="3"/><circle cx="884.5" cy="222.2" r="3"/><circle cx="871.5" cy="221" r="3"/><circle cx="859.6" cy="219.9" r="3"/><circle cx="898.6" cy="223.9" r="3"/><circle cx="849.7" cy="218.2" r="3"/><circle cx="903.3" cy="222.2" r="3"/><circle cx="900.4" cy="218.9" r="3"/><circle cx="875.2" cy="219.3" r="3"/><circle cx="903.4" cy="220.2" r="3"/><circle cx="892" cy="225.1" r="3"/><circle cx="868" cy="221.6" r="3"/><circle cx="898.7" cy="224.6" r="3"/><circle cx="875.5" cy="220.2" r="3"/><circle cx="851.3" cy="224.2" r="3"/><circle cx="850" cy="217.9" r="3"/><circle cx="885.4" cy="221.1" r="3"/><circle cx="1042.9" cy="219.7" r="3"/><circle cx="1049.5" cy="217.8" r="3"/><circle cx="1008.4" cy="222.8" r="3"/><circle cx="998.8" cy="219.8" r="3"/><circle cx="1045.8" cy="223" r="3"/><circle cx="1013.5" cy="218.4" r="3"/><circle cx="1018.9" cy="223.3" r="3"/><circle cx="1019.6" cy="218.2" r="3"/><circle cx="1044.6" cy="222" r="3"/><circle cx="1059.9" cy="225.1" r="3"/><circle cx="1059.5" cy="220.9" r="3"/><circle cx="1051.5" cy="219.8" r="3"/><circle cx="1016" cy="220.6" r="3"/><circle cx="1061.1" cy="224.7" r="3"/><circle cx="1010.9" cy="220.2" r="3"/><circle cx="1019.5" cy="220.3" r="3"/><circle cx="1021.7" cy="220.5" r="3"/><circle cx="1007" cy="221.9" r="3"/><circle cx="1051" cy="221.7" r="3"/><circle cx="1053.9" cy="221.9" r="3"/><circle cx="1005.7" cy="223.6" r="3"/><circle cx="1057.2" cy="219.6" r="3"/><circle cx="994.4" cy="221.5" r="3"/><circle cx="1032.6" cy="222" r="3"/><circle cx="1063.4" cy="222.7" r="3"/><circle cx="1051.6" cy="217.7" r="3"/><circle cx="1032.7" cy="223.8" r="3"/><circle cx="998.9" cy="217.9" r="3"/><circle cx="1046.6" cy="224.8" r="3"/><circle cx="999" cy="222.5" r="3"/><circle cx="1003.3" cy="223.5" r="3"/><circle cx="1040.2" cy="219.3" r="3"/><circle cx="1008.9" cy="223.6" r="3"/><circle cx="1030.9" cy="223.6" r="3"/><circle cx="1021.6" cy="220" r="3"/><circle cx="1063.5" cy="222.8" r="3"/><circle cx="1028.9" cy="221.7" r="3"/><circle cx="1045.5" cy="223.1" r="3"/><circle cx="1059.6" cy="220.6" r="3"/><circle cx="1053.2" cy="222.8" r="3"/><circle cx="1055.1" cy="224" r="3"/><circle cx="1053.7" cy="224.7" r="3"/><circle cx="1062.8" cy="222.6" r="3"/><circle cx="1031.1" cy="223.2" r="3"/><circle cx="1051.4" cy="220.7" r="3"/><circle cx="1023.5" cy="218.4" r="3"/><circle cx="1046.9" cy="225.5" r="3"/><circle cx="1020.2" cy="218.6" r="3"/><circle cx="1007.7" cy="220.8" r="3"/><circle cx="1014.1" cy="225.3" r="3"/><circle cx="997.1" cy="219.8" r="3"/><circle cx="1001.2" cy="222.6" r="3"/><circle cx="1049.5" cy="218.7" r="3"/><circle cx="997.4" cy="221.1" r="3"/><circle cx="1035.5" cy="224.8" r="3"/><circle cx="995.5" cy="218.1" r="3"/><circle cx="1006.3" cy="219" r="3"/><circle cx="1010" cy="223.2" r="3"/><circle cx="1036.3" cy="219.1" r="3"/><circle cx="1006.3" cy="219.6" r="3"/><circle cx="1005.4" cy="223.6" r="3"/><circle cx="1015.6" cy="221.8" r="3"/><circle cx="1052.5" cy="221.2" r="3"/><circle cx="1011.8" cy="224.7" r="3"/><circle cx="1059.6" cy="220.1" r="3"/><circle cx="1161" cy="224.7" r="3"/><circle cx="1158.7" cy="218.9" r="3"/><circle cx="1143.2" cy="224.6" r="3"/><circle cx="1170.2" cy="220.2" r="3"/><circle cx="1160.3" cy="221.2" r="3"/><circle cx="1151.2" cy="224.9" r="3"/><circle cx="1165" cy="219.1" r="3"/><circle cx="1141.8" cy="220.9" r="3"/><circle cx="1154.7" cy="223.4" r="3"/><circle cx="1167" cy="221.9" r="3"/><circle cx="1147" cy="218.4" r="3"/><circle cx="1152.9" cy="219.2" r="3"/><circle cx="1172.6" cy="221.2" r="3"/><circle cx="1164.2" cy="224.9" r="3"/><circle cx="1150.9" cy="221.4" r="3"/><circle cx="1146.8" cy="223.2" r="3"/><circle cx="1141.4" cy="223.6" r="3"/><circle cx="1171.8" cy="223.6" r="3"/><circle cx="1144.3" cy="219.3" r="3"/><circle cx="1167.1" cy="218" r="3"/><circle cx="1158.6" cy="220.9" r="3"/><circle cx="1175.7" cy="221.8" r="3"/><circle cx="1172.2" cy="219.6" r="3"/><circle cx="1169.7" cy="220.5" r="3"/><circle cx="1174.3" cy="217.9" r="3"/><circle cx="1171" cy="218.8" r="3"/><circle cx="1160.9" cy="221.3" r="3"/>
</g>
<rect x="63.6" y="5.5" width="1114.3" height="236.9" fill="none" stroke="#000" stroke-width="1.2"/>
<path d="M58.4 242.4H63.6M58.4 202.9H63.6M58.4 163.4H63.6M58.4 124H63.6M58.4 84.5H63.6M58.4 45H63.6M58.4 5.5H63.6M63.6 242.4V247.6M187.4 242.4V247.6M311.2 242.4V247.6M435 242.4V247.6M558.8 242.4V247.6M682.7 242.4V247.6M806.5 242.4V247.6M930.3 242.4V247.6M1054.1 242.4V247.6M1177.9 242.4V247.6" stroke="#000" stroke-width="1.2" fill="none"/>
<g font-family="Liberation Sans, sans-serif" font-size="15.2" fill="#1a1a1a">
<text x="53.6" y="247.8" text-anchor="end" textLength="8.9" lengthAdjust="spacing">0</text>
<text x="53.6" y="208.3" text-anchor="end" textLength="26.8" lengthAdjust="spacing">100</text>
<text x="53.6" y="168.8" text-anchor="end" textLength="26.8" lengthAdjust="spacing">200</text>
<text x="53.6" y="129.3" text-anchor="end" textLength="26.8" lengthAdjust="spacing">300</text>
<text x="53.6" y="89.9" text-anchor="end" textLength="26.8" lengthAdjust="spacing">400</text>
<text x="53.6" y="50.4" text-anchor="end" textLength="26.8" lengthAdjust="spacing">500</text>
<text x="53.6" y="10.9" text-anchor="end" textLength="26.8" lengthAdjust="spacing">600</text>
<text x="63.6" y="263.1" text-anchor="middle" textLength="8.9" lengthAdjust="spacing">0</text>
<text x="187.4" y="263.1" text-anchor="middle" textLength="26.8" lengthAdjust="spacing">200</text>
<text x="311.2" y="263.1" text-anchor="middle" textLength="26.8" lengthAdjust="spacing">400</text>
<text x="435" y="263.1" text-anchor="middle" textLength="26.8" lengthAdjust="spacing">600</text>
<text x="558.8" y="263.1" text-anchor="middle" textLength="26.8" lengthAdjust="spacing">800</text>
<text x="682.7" y="263.1" text-anchor="middle" textLength="35.8" lengthAdjust="spacing">1000</text>
<text x="806.5" y="263.1" text-anchor="middle" textLength="35.8" lengthAdjust="spacing">1200</text>
<text x="930.3" y="263.1" text-anchor="middle" textLength="35.8" lengthAdjust="spacing">1400</text>
<text x="1054.1" y="263.1" text-anchor="middle" textLength="35.8" lengthAdjust="spacing">1600</text>
<text x="1177.9" y="263.1" text-anchor="middle" textLength="35.8" lengthAdjust="spacing">1800</text>
</g>
<text font-family="Liberation Sans, sans-serif" font-size="24" text-anchor="middle" textLength="103" lengthAdjust="spacing" transform="translate(17.6 120) rotate(-90)">HR[BPM]</text>
<text font-family="Liberation Sans, sans-serif" font-size="25" text-anchor="middle" textLength="91.6" lengthAdjust="spacing" x="622.6" y="292.2">Time [s]</text>
<text font-family="Liberation Serif, serif" font-size="26" stroke="#fff" stroke-width="0.3" text-anchor="middle" textLength="31" lengthAdjust="spacing" x="598.6" y="329.8">(a)</text>
<clipPath id="clip2"><rect x="71.1" y="389.9" width="1111.4" height="236.4"/></clipPath>
<rect x="256.3" y="389.9" width="74.1" height="236.4" fill="#ffb2b2"/>
<rect x="404.5" y="389.9" width="74.1" height="236.4" fill="#ffb2b2"/>
<rect x="552.7" y="389.9" width="74.1" height="236.4" fill="#ffb2b2"/>
<rect x="700.9" y="389.9" width="74.1" height="236.4" fill="#ffb2b2"/>
<rect x="849.1" y="389.9" width="74.1" height="236.4" fill="#ffb2b2"/>
<rect x="997.3" y="389.9" width="74.1" height="236.4" fill="#ffb2b2"/>
<rect x="1145.5" y="389.9" width="37" height="236.4" fill="#ffb2b2"/>
<path d="M71.1 586.9H1182.5M71.1 547.5H1182.5M71.1 508.1H1182.5M71.1 468.7H1182.5M71.1 429.3H1182.5M194.6 389.9V626.3M318.1 389.9V626.3M441.6 389.9V626.3M565.1 389.9V626.3M688.5 389.9V626.3M812 389.9V626.3M935.5 389.9V626.3M1059 389.9V626.3" stroke="#b0b0b0" stroke-width="1.1" fill="none"/>
<g clip-path="url(#clip2)" fill="#0000ff">
<path d="M71.1 605.1 L72.3 605.1 L73.6 605.4 L74.8 604.6 L76 604.7 L77.3 604.9 L78.5 605.6 L79.7 604.8 L81 605.6 L82.2 605.3 L83.4 604.9 L84.7 604.8 L85.9 604.9 L87.2 605.3 L88.4 604.8 L89.6 605.2 L90.9 605.1 L92.1 604.8 L93.3 605.2 L94.6 605.2 L95.8 605.3 L97 604.9 L98.3 605 L99.5 605.7 L100.7 605.1 L102 604.8 L103.2 605.5 L104.4 604.8 L105.7 604.5 L106.9 605 L108.1 604.8 L109.4 605.2 L110.6 605.4 L111.9 604.6 L113.1 605.5 L114.3 604.5 L115.6 605.7 L116.8 604.9 L118 605.4 L119.3 604.6 L120.5 604.9 L121.7 604.5 L123 604.8 L124.2 605.6 L125.4 604.7 L126.7 605.7 L127.9 604.7 L129.1 605.1 L130.4 605.5 L131.6 604.8 L132.8 604.9 L134.1 605 L135.3 605.3 L136.5 604.7 L137.8 605.3 L139 604.5 L140.3 605.5 L141.5 605.1 L142.7 604.5 L144 604.6 L145.2 605.3 L146.4 604.6 L147.7 604.9 L148.9 605 L150.1 605.1 L151.4 604.8 L152.6 604.8 L153.8 604.3 L155.1 605.2 L156.3 605 L157.5 605.1 L158.8 604.4 L160 605.4 L161.2 604.9 L162.5 605.2 L163.7 604.9 L165 604.2 L166.2 605.2 L167.4 605.1 L168.7 606 L169.9 604.7 L171.1 605 L172.4 604.7 L173.6 605.6 L174.8 605.1 L176.1 604.6 L177.3 604.6 L178.5 604.8 L179.8 605 L181 605.1 L182.2 604.7 L183.5 605.1 L184.7 604.7 L185.9 604.1 L187.2 604.7 L188.4 605 L189.6 604.9 L190.9 605.6 L192.1 604.8 L193.4 605.4 L194.6 604.6 L195.8 604.5 L197.1 605 L198.3 604.8 L199.5 605.3 L200.8 604.7 L202 605.7 L203.2 605.1 L204.5 604.9 L205.7 604.5 L206.9 604.6 L208.2 604.5 L209.4 605.3 L210.6 605 L211.9 604.5 L213.1 605.8 L214.3 605.7 L215.6 604.9 L216.8 605 L218.1 605 L219.3 605 L220.5 604.5 L221.8 605.3 L223 605.7 L224.2 605.7 L225.5 605.5 L226.7 605.1 L227.9 605.2 L229.2 604.4 L230.4 604.8 L231.6 605.1 L232.9 605.2 L234.1 605.6 L235.3 604.7 L236.6 605 L237.8 605 L239 605.6 L240.3 604.7 L241.5 605.3 L242.7 605.6 L244 605.4 L245.2 605.9 L246.5 605.3 L247.7 604.8 L248.9 605.8 L250.2 604.9 L251.4 604.7 L252.6 604.8 L253.9 604.6 L255.1 604.9 L256 604.7" fill="none" stroke="#0000ff" stroke-width="6.2" stroke-linecap="round" stroke-linejoin="round"/>
<path d="M332.5 605 L333.8 605 L335 604.6 L336.2 605 L337.5 604.8 L338.7 605 L339.9 604.8 L341.2 605.2 L342.4 605.5 L343.6 605.7 L344.9 604.8 L346.1 605 L347.3 605.5 L348.6 604.8 L349.8 605.3 L351 605.7 L352.3 604.7 L353.5 605 L354.8 605.6 L356 605.4 L357.2 605.5 L358.5 604.9 L359.7 604.8 L360.9 604.6 L362.2 605.2 L363.4 605.4 L364.6 605 L365.9 605.6 L367.1 605 L368.3 605.1 L369.6 605.3 L370.8 604.9 L372 605.3 L373.3 606 L374.5 605 L375.7 605 L377 605.5 L378.2 605.1 L379.5 604.8 L380.7 605.3 L381.9 605 L383.2 604.9 L384.4 605.5 L385.6 605.3 L386.9 605.1 L388.1 605 L389.3 605.2 L390.6 605.1 L391.8 605 L393 605.9 L394.3 604.9 L395.5 604.2 L396.7 604.6 L398 604.7 L399.2 605.1 L400.4 605.4 L401.7 605.4 L402.9 604.3 L404 605" fill="none" stroke="#0000ff" stroke-width="6.2" stroke-linecap="round" stroke-linejoin="round"/>
<path d="M480.3 604.9 L481.6 604.2 L482.8 605.3 L484 604.8 L485.3 605.4 L486.5 604.9 L487.8 605.1 L489 604.9 L490.2 605.1 L491.5 604.7 L492.7 605.2 L493.9 605.3 L495.2 604.8 L496.4 605.2 L497.6 605 L498.9 605 L500.1 604.9 L501.3 605.7 L502.6 604.9 L503.8 604.7 L505 605.2 L506.3 605.6 L507.5 605 L508.7 605.1 L510 605.3 L511.2 604.4 L512.4 604.2 L513.7 605 L514.9 604.7 L516.2 605.8 L517.4 604.7 L518.6 604.1 L519.9 604.9 L521.1 604.9 L522.3 605.5 L523.6 606.2 L524.8 605.2 L526 604.3 L527.3 605.1 L528.5 605.3 L529.7 604.8 L531 605 L532.2 604.7 L533.4 605.1 L534.7 605.1 L535.9 604.5 L537.1 605.4 L538.4 604.9 L539.6 604.5 L540.9 604.7 L542.1 605.1 L543.3 604.7 L544.6 605.1 L545.8 605 L547 605.2 L548.3 605.8 L549.5 604.8 L550.7 605.2 L552 604.5 L552.3 604.5" fill="none" stroke="#0000ff" stroke-width="6.2" stroke-linecap="round" stroke-linejoin="round"/>
<path d="M628.2 605.3 L629.4 604.2 L630.6 605.2 L631.9 605.1 L633.1 604.3 L634.3 605.6 L635.6 605.6 L636.8 605.2 L638 604.6 L639.3 605.5 L640.5 604.6 L641.7 605.3 L643 604.8 L644.2 605.8 L645.4 604.7 L646.7 604.7 L647.9 605 L649.2 604.1 L650.4 605.1 L651.6 604.7 L652.9 604.6 L654.1 604.9 L655.3 605 L656.6 605.6 L657.8 604.9 L659 605 L660.3 605.4 L661.5 604.8 L662.7 605.1 L664 604.6 L665.2 605 L666.4 604.9 L667.7 605.4 L668.9 605.2 L670.1 605.4 L671.4 605.5 L672.6 605.4 L673.8 604.5 L675.1 605.3 L676.3 605 L677.6 605.2 L678.8 605.2 L680 604.8 L681.3 604.7 L682.5 605.1 L683.7 605.1 L685 605.1 L686.2 605.1 L687.4 605.4 L688.7 604.8 L689.9 604.3 L691.1 605.1 L692.4 604.7 L693.6 605.9 L694.8 604.8 L696.1 604.8 L697.3 604.7 L698.5 605 L699.8 604.8 L699.9 604.8" fill="none" stroke="#0000ff" stroke-width="6.2" stroke-linecap="round" stroke-linejoin="round"/>
<path d="M776 605.1 L777.2 605.4 L778.4 604.9 L779.7 605.1 L780.9 604.8 L782.1 605 L783.4 605 L784.6 605.1 L785.9 605 L787.1 604.8 L788.3 605 L789.6 605.4 L790.8 605.5 L792 605.7 L793.3 605.3 L794.5 605.5 L795.7 605.3 L797 604.9 L798.2 604.3 L799.4 605 L800.7 604.4 L801.9 605.1 L803.1 604.9 L804.4 605.2 L805.6 605.2 L806.8 604.6 L808.1 605.5 L809.3 604.7 L810.6 604.4 L811.8 604.3 L813 604.8 L814.3 605 L815.5 604.7 L816.7 605.5 L818 605.2 L819.2 604.9 L820.4 605 L821.7 605.2 L822.9 604.8 L824.1 605.1 L825.4 605.2 L826.6 604.6 L827.8 604.7 L829.1 604.7 L830.3 605.6 L831.5 605.3 L832.8 605.3 L834 604.9 L835.2 604.9 L836.5 604.8 L837.7 604.9 L839 604.6 L840.2 605.7 L841.4 604.9 L842.7 605.4 L843.9 605.1 L845.1 605.1 L846.4 605.2 L847.6 604.6 L848 604.6" fill="none" stroke="#0000ff" stroke-width="6.2" stroke-linecap="round" stroke-linejoin="round"/>
<path d="M924.5 604.8 L925.8 605.8 L927 604.9 L928.2 605.5 L929.5 604.3 L930.7 605.1 L931.9 605.1 L933.2 604.7 L934.4 605.5 L935.6 605.2 L936.9 604.9 L938.1 604.6 L939.4 604.9 L940.6 605.2 L941.8 604.6 L943.1 604.8 L944.3 605.5 L945.5 604.9 L946.8 605.3 L948 604.8 L949.2 605.3 L950.5 605.2 L951.7 604.9 L952.9 604.9 L954.2 605.2 L955.4 605.2 L956.6 604.5 L957.9 605.1 L959.1 605.2 L960.3 605.5 L961.6 605.2 L962.8 604.4 L964 604.4 L965.3 604.5 L966.5 604.6 L967.8 605.1 L969 604.2 L970.2 605.2 L971.5 604.9 L972.7 605 L973.9 605.1 L975.2 604.5 L976.4 604.7 L977.6 605.5 L978.9 605.4 L980.1 604.9 L981.3 604.8 L982.6 605.6 L983.8 605.7 L985 605.3 L986.3 605 L987.5 605.1 L988.7 605.2 L990 605.4 L991.2 605.7 L992.5 604.3 L993.7 605.5 L994.9 605.4 L996.2 605.3" fill="none" stroke="#0000ff" stroke-width="6.2" stroke-linecap="round" stroke-linejoin="round"/>
<path d="M1072.8 605.8 L1074 605 L1075.2 605 L1076.5 604.5 L1077.7 605 L1079 605.2 L1080.2 604.7 L1081.4 605.1 L1082.7 605.3 L1083.9 605.5 L1085.1 604.6 L1086.4 605.4 L1087.6 605.3 L1088.8 605.5 L1090.1 604.4 L1091.3 605.3 L1092.5 604.1 L1093.8 605.2 L1095 605.3 L1096.2 604.4 L1097.5 605.3 L1098.7 605.7 L1099.9 605.4 L1101.2 605.6 L1102.4 604.9 L1103.7 604.7 L1104.9 605.4 L1106.1 604.7 L1107.4 604.4 L1108.6 604.8 L1109.8 605.3 L1111.1 604.6 L1112.3 605.3 L1113.5 605.1 L1114.8 605.6 L1116 604.8 L1117.2 604.8 L1118.5 605.4 L1119.7 605.3 L1120.9 605 L1122.2 604.9 L1123.4 604.5 L1124.6 605 L1125.9 605.7 L1127.1 604.7 L1128.4 605.5 L1129.6 604.9 L1130.8 604.8 L1132.1 605.3 L1133.3 605.4 L1134.5 605 L1135.8 604.7 L1137 604.6 L1138.2 605 L1139.5 605.3 L1140.7 605.1 L1141.9 604 L1143.2 604.8 L1144.4 605.3 L1144.6 605.1" fill="none" stroke="#0000ff" stroke-width="6.2" stroke-linecap="round" stroke-linejoin="round"/>
<circle cx="127.3" cy="600.9" r="3"/><circle cx="201.7" cy="607.4" r="3"/><circle cx="379.8" cy="600.3" r="3"/><circle cx="399" cy="600.3" r="3"/><circle cx="537" cy="607.4" r="3"/><circle cx="645.9" cy="601.1" r="3"/><circle cx="693.1" cy="601.1" r="3"/><circle cx="838.6" cy="607.4" r="3"/><circle cx="948.5" cy="601.1" r="3"/><circle cx="973.2" cy="601.1" r="3"/><circle cx="996" cy="601.5" r="3"/><circle cx="1093.6" cy="607.4" r="3"/>
<circle cx="479.4" cy="596.5" r="3"/>
</g>
<rect x="71.1" y="389.9" width="1111.4" height="236.4" fill="none" stroke="#000" stroke-width="1.2"/>
<path d="M65.9 626.3H71.1M65.9 586.9H71.1M65.9 547.5H71.1M65.9 508.1H71.1M65.9 468.7H71.1M65.9 429.3H71.1M65.9 389.9H71.1M71.1 626.3V631.5M194.6 626.3V631.5M318.1 626.3V631.5M441.6 626.3V631.5M565.1 626.3V631.5M688.5 626.3V631.5M812 626.3V631.5M935.5 626.3V631.5M1059 626.3V631.5M1182.5 626.3V631.5" stroke="#000" stroke-width="1.2" fill="none"/>
<g font-family="Liberation Sans, sans-serif" font-size="15.2" fill="#1a1a1a">
<text x="61.1" y="631.7" text-anchor="end" textLength="8.9" lengthAdjust="spacing">0</text>
<text x="61.1" y="592.3" text-anchor="end" textLength="26.8" lengthAdjust="spacing">100</text>
<text x="61.1" y="552.9" text-anchor="end" textLength="26.8" lengthAdjust="spacing">200</text>
<text x="61.1" y="513.5" text-anchor="end" textLength="26.8" lengthAdjust="spacing">300</text>
<text x="61.1" y="474.1" text-anchor="end" textLength="26.8" lengthAdjust="spacing">400</text>
<text x="61.1" y="434.7" text-anchor="end" textLength="26.8" lengthAdjust="spacing">500</text>
<text x="61.1" y="395.3" text-anchor="end" textLength="26.8" lengthAdjust="spacing">600</text>
<text x="71.1" y="647" text-anchor="middle" textLength="8.9" lengthAdjust="spacing">0</text>
<text x="194.6" y="647" text-anchor="middle" textLength="26.8" lengthAdjust="spacing">200</text>
<text x="318.1" y="647" text-anchor="middle" textLength="26.8" lengthAdjust="spacing">400</text>
<text x="441.6" y="647" text-anchor="middle" textLength="26.8" lengthAdjust="spacing">600</text>
<text x="565.1" y="647" text-anchor="middle" textLength="26.8" lengthAdjust="spacing">800</text>
<text x="688.5" y="647" text-anchor="middle" textLength="35.8" lengthAdjust="spacing">1000</text>
<text x="812" y="647" text-anchor="middle" textLength="35.8" lengthAdjust="spacing">1200</text>
<text x="935.5" y="647" text-anchor="middle" textLength="35.8" lengthAdjust="spacing">1400</text>
<text x="1059" y="647" text-anchor="middle" textLength="35.8" lengthAdjust="spacing">1600</text>
<text x="1182.5" y="647" text-anchor="middle" textLength="35.8" lengthAdjust="spacing">1800</text>
</g>
<text font-family="Liberation Sans, sans-serif" font-size="24" text-anchor="middle" textLength="103" lengthAdjust="spacing" transform="translate(24 505.2) rotate(-90)">HR[BPM]</text>
<text font-family="Liberation Sans, sans-serif" font-size="25" text-anchor="middle" textLength="90.5" lengthAdjust="spacing" x="628.1" y="674.6">Time [s]</text>
<text font-family="Liberation Serif, serif" font-size="26" stroke="#fff" stroke-width="0.3" text-anchor="middle" textLength="32.6" lengthAdjust="spacing" x="598.5" y="712.2">(b)</text>
</svg>
</body></html>
